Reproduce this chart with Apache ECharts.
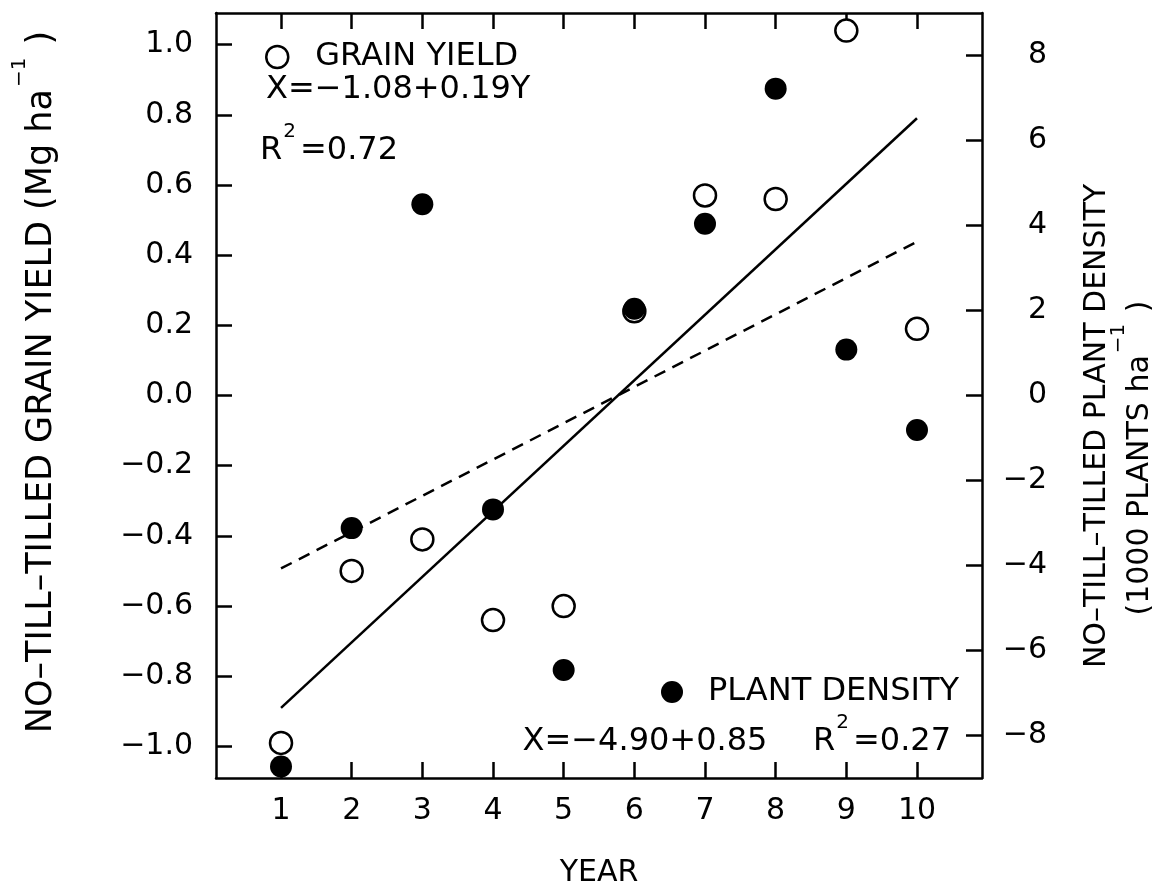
<!DOCTYPE html>
<html>
<head>
<meta charset="utf-8">
<script src="https://cdn.jsdelivr.net/npm/echarts@6/dist/echarts.min.js"></script>
<style>
html,body{margin:0;padding:0;background:#fff;overflow:hidden;}
.c{width:1171px;height:888px;position:absolute;left:0;top:0;}
#overlay{pointer-events:none;}
</style>
</head>
<body>
<div id="chart" class="c"></div>
<div id="overlay" class="c"></div>
<script>
// ---- data ----
const years = [1, 2, 3, 4, 5, 6, 7, 8, 9, 10];
const grainYield = [-0.99, -0.50, -0.41, -0.64, -0.60, 0.24, 0.57, 0.56, 1.04, 0.19];
const plantDensity = [-8.73, -3.12, 4.50, -2.68, -6.46, 2.04, 4.04, 7.22, 1.08, -0.81];
const fitYears = [1, 10];
const yieldFit = [-0.89, 0.79];
const densityFit = [-4.07, 3.62];
const xTicks = [1, 2, 3, 4, 5, 6, 7, 8, 9, 10];
const yieldTicks = [-1.0, -0.8, -0.6, -0.4, -0.2, 0.0, 0.2, 0.4, 0.6, 0.8, 1.0];
const densityTicks = [-8, -6, -4, -2, 0, 2, 4, 6, 8];

// ---- helpers ----
const FONT = '"DejaVu Sans", "Liberation Sans", sans-serif';
const ctx = document.createElement('canvas').getContext('2d');
function tw(t, size) { ctx.font = size + 'px ' + FONT; return ctx.measureText(t).width; }
function minus(s) { return String(s).replace('-', '\u2212'); }
const pairs = (xs, ys) => xs.map((x, i) => [x, ys[i]]);

const LW = 2.5;
const ANN = 32;   // annotation font size
const TICK = 30;  // tick label size
const X_MIN = 0.08, X_MAX = 10.92, YL_MIN = -1.09, YL_MAX = 1.09, YR_MIN = -9, YR_MAX = 9;
const GRID = { left: 216, top: 13, right: 189, bottom: 110, outerBoundsMode: 'none' };

function mkAxisLine() { return { show: true, onZero: false, lineStyle: { color: '#000', width: LW } }; }
function mkTick(vals) { return { show: true, inside: true, length: 16, lineStyle: { color: '#000', width: LW }, customValues: vals.slice() }; }
function txt(x, y, text, size, align) {
  return { type: 'text', x: x, y: y,
    style: { text: text, fontSize: size, fontFamily: FONT, fill: '#000',
             align: align || 'left', verticalAlign: 'middle' } };
}
function r2(xStart, y, value) {
  const wR = tw('R', ANN), wS = tw('2', 20);
  return [
    txt(xStart, y, 'R', ANN),
    txt(xStart + wR + 1, y - 19, '2', 20),
    txt(xStart + wR + wS + 5, y, '=' + value, ANN)
  ];
}
function rotTitle(cx, cy, main, size, sup, supSize, supOff, tail) {
  const wM = tw(main, size), wS = sup ? tw(sup, supSize) : 0, wT = tail ? tw(tail, size) : 0;
  const total = wM + (sup ? wS + 4 : 0) + wT;
  const children = [txt(0, 0, main, size)];
  if (sup) children.push(txt(wM + 2, -supOff, sup, supSize));
  if (tail) children.push(txt(wM + wS + 4, 0, tail, size));
  return { type: 'group', x: cx, y: cy + total / 2, rotation: Math.PI / 2, children: children };
}

// ---- main chart: frame, axes, grain yield ----
const mainOption = {
  backgroundColor: '#fff',
  animation: false,
  grid: GRID,
  xAxis: [
    { type: 'value', position: 'bottom', min: X_MIN, max: X_MAX, axisLine: mkAxisLine(), splitLine: { show: false },
      axisTick: mkTick(xTicks),
      axisLabel: { show: true, customValues: xTicks.slice(), fontSize: TICK, fontFamily: FONT, color: '#000', margin: 18 },
      name: 'YEAR', nameLocation: 'middle', nameGap: 80,
      nameTextStyle: { fontSize: 30, fontFamily: FONT, color: '#000' } },
    { type: 'value', position: 'top', min: X_MIN, max: X_MAX, axisLine: mkAxisLine(), splitLine: { show: false },
      axisTick: mkTick(xTicks), axisLabel: { show: false, customValues: xTicks.slice() } }
  ],
  yAxis: [
    { type: 'value', position: 'left', min: YL_MIN, max: YL_MAX, axisLine: mkAxisLine(), splitLine: { show: false },
      axisTick: mkTick(yieldTicks),
      axisLabel: { show: true, customValues: yieldTicks.slice(), fontSize: TICK, fontFamily: FONT, color: '#000', margin: 23,
        formatter: v => minus(Number(v).toFixed(1)) } },
    { type: 'value', position: 'right', min: YR_MIN, max: YR_MAX, axisLine: mkAxisLine(), splitLine: { show: false },
      axisTick: mkTick(densityTicks),
      axisLabel: { show: true, customValues: densityTicks.slice(), fontSize: TICK, fontFamily: FONT, color: '#000',
        align: 'right', margin: 65, formatter: v => minus(Math.round(v)) } }
  ],
  legend: [
    { data: ['GRAIN YIELD'], left: 260, top: 36, itemWidth: 22, itemHeight: 22, selectedMode: false,
      itemStyle: { color: '#fff', borderColor: '#000', borderWidth: LW },
      textStyle: { fontSize: ANN, fontFamily: FONT, color: '#000', padding: [0, 0, 0, 22] } }
  ],
  series: [
    { name: 'Yield fit', type: 'line', yAxisIndex: 0, z: 2, data: pairs(fitYears, yieldFit), symbol: 'none',
      lineStyle: { color: '#000', width: LW } },
    { name: 'GRAIN YIELD', type: 'scatter', yAxisIndex: 0, z: 3, data: pairs(years, grainYield), symbol: 'circle', symbolSize: 22,
      itemStyle: { color: '#fff', borderColor: '#000', borderWidth: LW, opacity: 1 } }
  ]
};
echarts.init(document.getElementById('chart')).setOption(mainOption);

// ---- overlay chart: plant density, annotations, titles (same grid & scales, hidden axes) ----
const hidden = { show: false };
const overlayOption = {
  backgroundColor: 'transparent',
  animation: false,
  grid: GRID,
  xAxis: [{ type: 'value', min: X_MIN, max: X_MAX, show: false, splitLine: hidden }],
  yAxis: [
    { type: 'value', position: 'left', min: YL_MIN, max: YL_MAX, show: false, splitLine: hidden },
    { type: 'value', position: 'right', min: YR_MIN, max: YR_MAX, show: false, splitLine: hidden }
  ],
  legend: [
    { data: ['PLANT DENSITY'], left: 656, top: 671, itemWidth: 22, itemHeight: 22, selectedMode: false,
      itemStyle: { color: '#000', borderColor: '#000', borderWidth: 0 },
      textStyle: { fontSize: ANN, fontFamily: FONT, color: '#000', padding: [0, 0, 0, 20] } }
  ],
  series: [
    { name: 'Density fit', type: 'line', yAxisIndex: 1, z: 2, data: pairs(fitYears, densityFit), symbol: 'none',
      lineStyle: { color: '#000', width: LW, type: [12, 8] } },
    { name: 'PLANT DENSITY', type: 'scatter', yAxisIndex: 1, z: 4, data: pairs(years, plantDensity), symbol: 'circle', symbolSize: 22,
      itemStyle: { color: '#000', opacity: 1 } }
  ],
  graphic: [
    txt(266, 90, 'X=\u22121.08+0.19Y', ANN),
    ...r2(260, 151, '0.72'),
    txt(645, 742, 'X=\u22124.90+0.85', ANN, 'center'),
    ...r2(813, 742, '0.27'),
    rotTitle(42, 382, 'NO\u2013TILL\u2013TILLED GRAIN YIELD (Mg ha', 35, '\u22121', 20, 22, ' )'),
    rotTitle(1097, 426, 'NO\u2013TILL\u2013TILLED PLANT DENSITY', 30, null, 0, 0, null),
    rotTitle(1140, 458, '(1000 PLANTS ha', 30, '\u22121', 20, 21, ' )')
  ]
};
echarts.init(document.getElementById('overlay')).setOption(overlayOption);
</script>
</body>
</html>
